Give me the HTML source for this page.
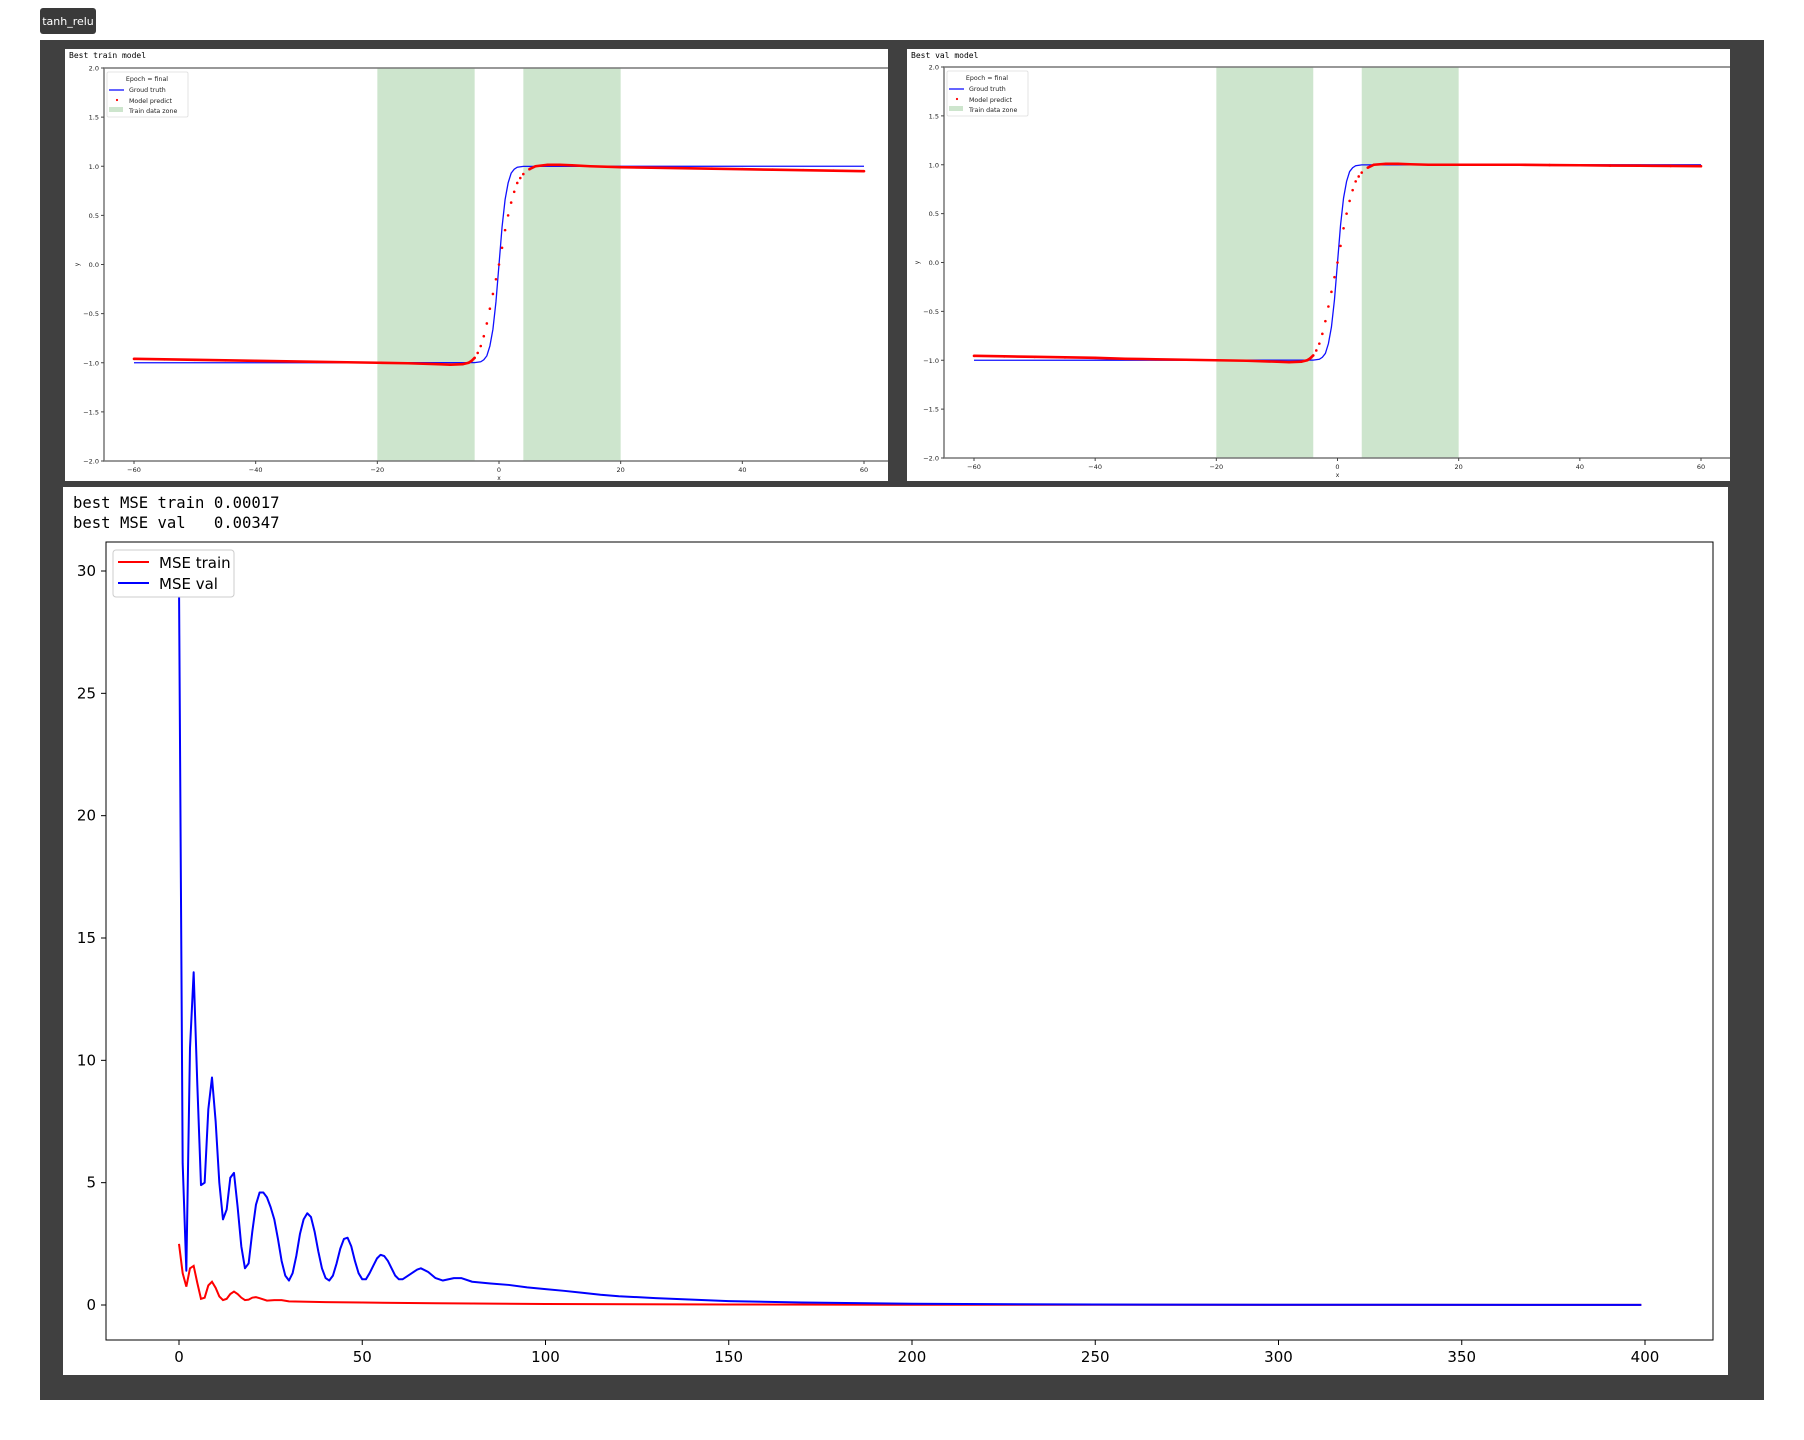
<!DOCTYPE html>
<html><head><meta charset="utf-8">
<style>
html,body{margin:0;padding:0;background:#fff;}
svg{display:block;}
text{font-family:"DejaVu Sans","Liberation Sans",sans-serif;}
.mono{font-family:"DejaVu Sans Mono","Liberation Mono",monospace;}
</style></head>
<body>
<svg id="root" width="1804" height="1440" viewBox="0 0 1804 1440" xmlns="http://www.w3.org/2000/svg">
  <rect x="40" y="8" width="56" height="26" rx="3" fill="#3a3a3a"/>
  <text x="68" y="25" font-size="11" fill="#fff" text-anchor="middle" font-family="Liberation Sans, sans-serif">tanh_relu</text>
  <rect x="40" y="40" width="1724" height="1360" fill="#404040"/>
  <g id="p1"></g>
  <g id="p2"></g>
  <g id="p3"></g>
</svg>
<script>
// ---- data: top panels ----
const gtX = [-60,-4,-3,-2.5,-2,-1.5,-1,-0.5,0,0.5,1,1.5,2,2.5,3,4,60];
const gtY = [-1,-0.999,-0.99,-0.97,-0.93,-0.83,-0.66,-0.38,0,0.38,0.66,0.83,0.93,0.97,0.99,0.999,1];
const predX = [-60,-55,-50,-45,-40,-35,-30,-25,-20,-15,-10,-8,-6,-5,-4.5,-4,-3.5,-3,-2.5,-2,-1.5,-1,-0.5,0,0.5,1,1.5,2,2.5,3,3.5,4,5,6,8,10,12,15,20,25,30,35,40,45,50,55,60];
const predTrainY = [-0.96,-0.965,-0.97,-0.975,-0.98,-0.985,-0.99,-0.995,-1.0,-1.005,-1.015,-1.02,-1.015,-1.0,-0.98,-0.95,-0.9,-0.83,-0.73,-0.6,-0.45,-0.3,-0.15,0,0.17,0.35,0.5,0.63,0.74,0.83,0.88,0.92,0.97,1.0,1.015,1.015,1.01,1.0,0.99,0.985,0.98,0.975,0.97,0.965,0.96,0.955,0.95];
const predValY = [-0.955,-0.96,-0.965,-0.97,-0.975,-0.985,-0.99,-0.995,-1.0,-1.005,-1.015,-1.02,-1.015,-1.0,-0.98,-0.95,-0.9,-0.83,-0.73,-0.6,-0.45,-0.3,-0.15,0,0.17,0.35,0.5,0.63,0.74,0.83,0.88,0.92,0.97,1.0,1.01,1.01,1.005,1.0,1.0,1.0,1.0,0.997,0.995,0.992,0.99,0.988,0.985];
const zones = [[-20,-4],[4,20]];
const topXTicks = [-60,-40,-20,0,20,40,60];
const topYTicks = [-2,-1.5,-1,-0.5,0,0.5,1,1.5,2];
// ---- data: MSE panel ----
const valEpoch = [0,1,2,3,4,5,6,7,8,9,10,11,12,13,14,15,16,17,18,19,20,21,22,23,24,25,26,27,28,29,30,31,32,33,34,35,36,37,38,39,40,41,42,43,44,45,46,47,48,49,50,51,52,53,54,55,56,57,58,59,60,61,63,65,66,68,70,72,75,77,80,85,90,95,100,105,110,115,120,130,140,150,170,200,250,300,399];
const valMSE = [29.5,5.8,1.4,10.5,13.6,9,4.9,5.0,8,9.3,7.5,5,3.5,3.9,5.2,5.4,4,2.4,1.5,1.7,3,4.1,4.6,4.6,4.4,4.0,3.5,2.7,1.8,1.2,1.0,1.3,2.0,2.9,3.5,3.75,3.6,3.0,2.2,1.5,1.1,1.0,1.2,1.7,2.3,2.7,2.75,2.4,1.8,1.3,1.05,1.05,1.3,1.6,1.9,2.05,2.0,1.8,1.5,1.2,1.05,1.05,1.25,1.45,1.5,1.35,1.1,1.0,1.1,1.1,0.95,0.88,0.82,0.72,0.65,0.58,0.5,0.42,0.36,0.28,0.22,0.16,0.1,0.05,0.02,0.01,0.005];
const trainEpoch = [0,1,2,3,4,5,6,7,8,9,10,11,12,13,14,15,16,17,18,19,20,21,22,24,26,28,30,40,50,70,100,150,200,399];
const trainMSE = [2.5,1.3,0.75,1.5,1.6,0.9,0.25,0.3,0.8,0.95,0.7,0.35,0.2,0.25,0.45,0.55,0.45,0.3,0.2,0.22,0.3,0.32,0.28,0.18,0.2,0.2,0.15,0.12,0.1,0.07,0.04,0.02,0.01,0.003];
const mseXTicks = [0,50,100,150,200,250,300,350,400];
const mseYTicks = [0,5,10,15,20,25,30];

const NS = 'http://www.w3.org/2000/svg';
function mk(parent, tag, attrs, txt){
  const e = document.createElementNS(NS, tag);
  for (const k in attrs) e.setAttribute(k, attrs[k]);
  if (txt !== undefined) e.textContent = txt;
  parent.appendChild(e);
  return e;
}
function fmt(v, d){ const s = v.toFixed(d); return s.replace('-', '\u2212'); }

const root = document.getElementById('root');
const defs = mk(root, 'defs', {});

function topPanel(gid, cfg, predY){
  const g = document.getElementById(gid);
  const cp = mk(defs, 'clipPath', {id: gid + 'clip'});
  mk(cp, 'rect', {x: cfg.px, y: cfg.py, width: cfg.pw, height: cfg.ph});
  const bg = mk(g, 'rect', {x: cfg.px, y: cfg.py, width: cfg.pw, height: cfg.ph, fill: '#fff'});
  
  
  const inner = mk(g, 'g', {'clip-path': 'url(#' + gid + 'clip)'});
  const sx = v => cfg.x0 + (v + 60) * (cfg.x1 - cfg.x0) / 120;
  const sy = v => cfg.yb + (v + 2) * (cfg.yt - cfg.yb) / 4;
  const title = mk(inner, 'text', {x: cfg.px + 4, y: cfg.py + 9, 'font-size': 8, class: 'mono', fill: '#000'}, cfg.title);
  
  
  zones.forEach((z, i) => {
    const r = mk(inner, 'rect', {x: sx(z[0]), y: cfg.yt, width: sx(z[1]) - sx(z[0]), height: cfg.yb - cfg.yt, fill: '#cde5cd'});
    
    
  });
  const axR = cfg.x0 + (126) * (cfg.x1 - cfg.x0) / 120;
  const frame = mk(inner, 'rect', {x: cfg.axL, y: cfg.yt, width: axR - cfg.axL, height: cfg.yb - cfg.yt, fill: 'none', stroke: '#777', 'stroke-width': 1.5});
  
  
  topXTicks.forEach(t => {
    mk(inner, 'line', {x1: sx(t), x2: sx(t), y1: cfg.yb, y2: cfg.yb + 3, stroke: '#444'});
    const tl = mk(inner, 'text', {x: sx(t), y: cfg.yb + 11, 'font-size': 6.5, 'text-anchor': 'middle', fill: '#222'}, fmt(t, 0));
    
    
  });
  topYTicks.forEach(t => {
    mk(inner, 'line', {x1: cfg.axL - 3, x2: cfg.axL, y1: sy(t), y2: sy(t), stroke: '#444'});
    const tl = mk(inner, 'text', {x: cfg.axL - 5, y: sy(t) + 2.5, 'font-size': 6.5, 'text-anchor': 'end', fill: '#222'}, fmt(t, 1));
    
    
  });
  const xl = mk(inner, 'text', {x: sx(0), y: cfg.yb + 19, 'font-size': 6, 'text-anchor': 'middle', fill: '#222'}, 'x');
  
  
  const yl = mk(inner, 'text', {x: cfg.axL - 27, y: sy(0) + 2, 'font-size': 6, 'text-anchor': 'middle', fill: '#222', transform: 'rotate(-90 ' + (cfg.axL - 27) + ' ' + (sy(0)) + ')'}, 'y');
  
  
  const gt = mk(inner, 'polyline', {points: gtX.map((x, i) => sx(x) + ',' + sy(gtY[i])).join(' '), fill: 'none', stroke: '#1010ff', 'stroke-width': 1.3});
  
  
  const leftPts = [], rightPts = [];
  predX.forEach((x, i) => {
    if (x <= -4) leftPts.push(sx(x) + ',' + sy(predY[i]));
    if (x >= 5) rightPts.push(sx(x) + ',' + sy(predY[i]));
  });
  const pl1 = mk(inner, 'polyline', {points: leftPts.join(' '), fill: 'none', stroke: '#f00', 'stroke-width': 2.6});
  
  
  const pl2 = mk(inner, 'polyline', {points: rightPts.join(' '), fill: 'none', stroke: '#f00', 'stroke-width': 2.6});
  
  
  predX.forEach((x, i) => {
    const c = mk(inner, 'circle', {cx: sx(x), cy: sy(predY[i]), r: 1.3, fill: '#f00'});
    
    
  });
  const lx = cfg.axL + 3, ly = cfg.yt + 4;
  const lg = mk(inner, 'g', {});
  
  
  mk(lg, 'rect', {x: lx, y: ly, width: 81, height: 45, fill: '#fff', stroke: '#ddd', 'stroke-width': 0.8, rx: 1.5});
  mk(lg, 'text', {x: lx + 40, y: ly + 9, 'font-size': 6.3, 'text-anchor': 'middle', fill: '#222'}, 'Epoch = final');
  mk(lg, 'line', {x1: lx + 2, x2: lx + 17, y1: ly + 18, y2: ly + 18, stroke: '#1010ff', 'stroke-width': 1.3});
  mk(lg, 'text', {x: lx + 22, y: ly + 20, 'font-size': 6.3, fill: '#222'}, 'Groud truth');
  mk(lg, 'circle', {cx: lx + 10, cy: ly + 28, r: 1.1, fill: '#f00'});
  mk(lg, 'text', {x: lx + 22, y: ly + 31, 'font-size': 6.3, fill: '#222'}, 'Model predict');
  mk(lg, 'rect', {x: lx + 2, y: ly + 35, width: 14, height: 5, fill: '#cde5cd'});
  mk(lg, 'text', {x: lx + 22, y: ly + 41, 'font-size': 6.3, fill: '#222'}, 'Train data zone');
}

topPanel('p1', {px: 65, py: 49, pw: 823, ph: 432, axL: 104, yt: 68, yb: 461, x0: 134, x1: 864, title: 'Best train model'}, predTrainY);
topPanel('p2', {px: 907, py: 49, pw: 823, ph: 432, axL: 944, yt: 67, yb: 458, x0: 974, x1: 1701, title: 'Best val model'}, predValY);

(function(){
  const g = document.getElementById('p3');
  const bg = mk(g, 'rect', {x: 63, y: 487, width: 1665, height: 888, fill: '#fff'});
  
  
  const t1 = mk(g, 'text', {x: 73, y: 508, 'font-size': 15.6, class: 'mono', fill: '#000', style: 'white-space:pre'}, 'best MSE train 0.00017');
  
  
  const t2 = mk(g, 'text', {x: 73, y: 528, 'font-size': 15.6, class: 'mono', fill: '#000', style: 'white-space:pre'}, 'best MSE val   0.00347');
  
  
  const L = 106, R = 1713, T = 542, B = 1340;
  const sx = v => 179 + v * (1645 - 179) / 400;
  const sy = v => 1305 + v * (571 - 1305) / 30;
  const fr = mk(g, 'rect', {x: L, y: T, width: R - L, height: B - T, fill: 'none', stroke: '#000', 'stroke-width': 1});
  
  
  mseXTicks.forEach(t => {
    mk(g, 'line', {x1: sx(t), x2: sx(t), y1: B, y2: B + 5, stroke: '#000'});
    const tl = mk(g, 'text', {x: sx(t), y: B + 22, 'font-size': 15, 'text-anchor': 'middle', fill: '#000'}, String(t));
    
    
  });
  mseYTicks.forEach(t => {
    mk(g, 'line', {x1: L - 5, x2: L, y1: sy(t), y2: sy(t), stroke: '#000'});
    const tl = mk(g, 'text', {x: L - 10, y: sy(t) + 5, 'font-size': 15, 'text-anchor': 'end', fill: '#000'}, String(t));
    
    
  });
  const tr = mk(g, 'polyline', {points: trainEpoch.map((e, i) => sx(e) + ',' + sy(trainMSE[i])).join(' '), fill: 'none', stroke: '#f00', 'stroke-width': 2});
  
  
  const vl = mk(g, 'polyline', {points: valEpoch.map((e, i) => sx(e) + ',' + sy(valMSE[i])).join(' '), fill: 'none', stroke: '#00f', 'stroke-width': 2, 'stroke-linejoin': 'round'});
  
  
  const lg = mk(g, 'g', {});
  
  
  mk(lg, 'rect', {x: 113, y: 550, width: 121, height: 47, fill: '#fff', stroke: '#ccc', rx: 3});
  mk(lg, 'line', {x1: 118, x2: 149, y1: 562, y2: 562, stroke: '#f00', 'stroke-width': 2});
  mk(lg, 'text', {x: 159, y: 568, 'font-size': 15, fill: '#000'}, 'MSE train');
  mk(lg, 'line', {x1: 118, x2: 149, y1: 583, y2: 583, stroke: '#00f', 'stroke-width': 2});
  mk(lg, 'text', {x: 159, y: 589, 'font-size': 15, fill: '#000'}, 'MSE val');
})();
</script>
</body></html>
